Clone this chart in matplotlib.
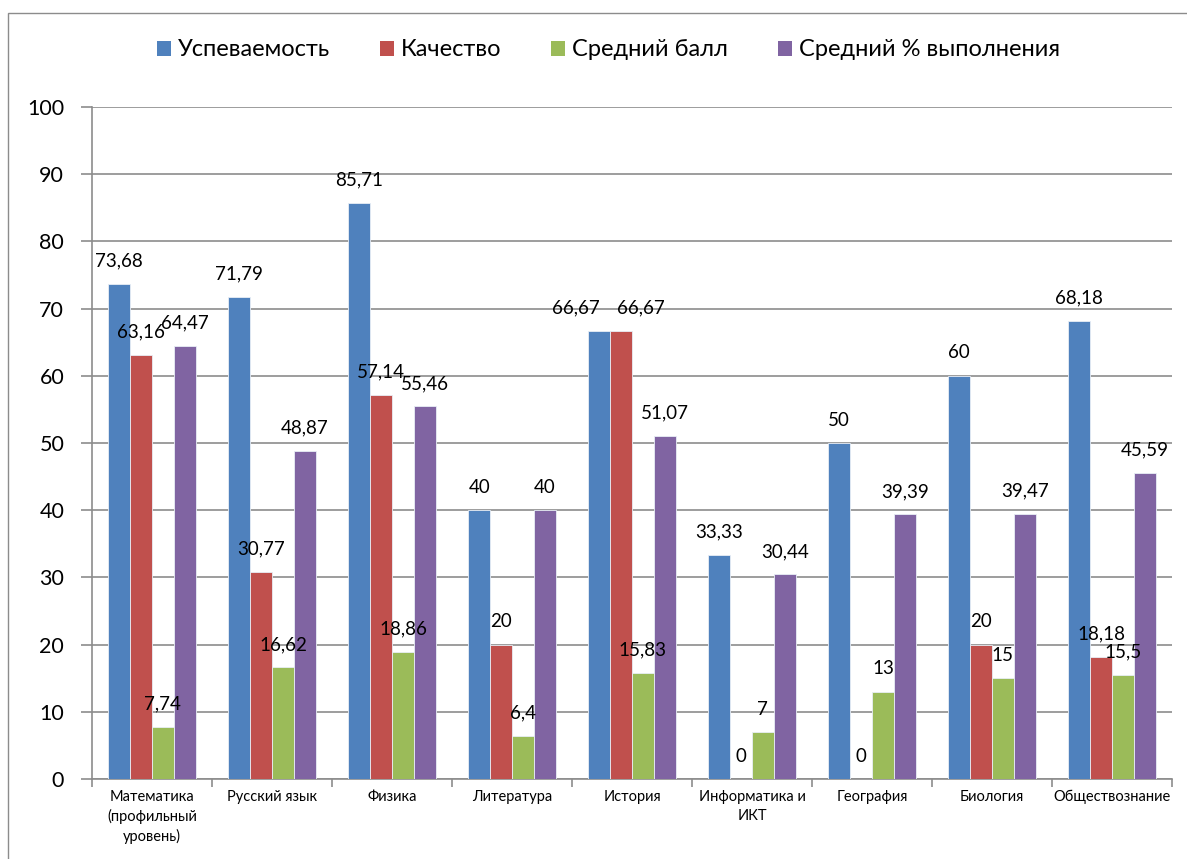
import matplotlib
matplotlib.use("Agg")
import matplotlib.pyplot as plt
from matplotlib.patches import Rectangle, Patch
import numpy as np

plt.rcParams['font.family'] = ['Lato', 'DejaVu Sans']

categories = ["Математика\n(профильный\nуровень)", "Русский язык", "Физика", "Литература",
              "История", "Информатика и\nИКТ", "География", "Биология", "Обществознание"]
series_names = ["Успеваемость", "Качество", "Средний балл", "Средний % выполнения"]
uspev = [73.68, 71.79, 85.71, 40, 66.67, 33.33, 50, 60, 68.18]
kach = [63.16, 30.77, 57.14, 20, 66.67, 0, 0, 20, 18.18]
sred_ball = [7.74, 16.62, 18.86, 6.4, 15.83, 7, 13, 15, 15.5]
sred_proc = [64.47, 48.87, 55.46, 40, 51.07, 30.44, 39.39, 39.47, 45.59]
labels_text = [
    ["73,68", "71,79", "85,71", "40", "66,67", "33,33", "50", "60", "68,18"],
    ["63,16", "30,77", "57,14", "20", "66,67", "0", "0", "20", "18,18"],
    ["7,74", "16,62", "18,86", "6,4", "15,83", "7", "13", "15", "15,5"],
    ["64,47", "48,87", "55,46", "40", "51,07", "30,44", "39,39", "39,47", "45,59"],
]
colors = ["#4F81BD", "#C0504D", "#9BBB59", "#8064A2"]
yticks = [0, 10, 20, 30, 40, 50, 60, 70, 80, 90, 100]

W, H = 1187, 859
fig = plt.figure(figsize=(W / 100, H / 100), dpi=100)
fig.patch.set_facecolor("white")

# outer chart border
fig.add_artist(Rectangle((8 / W, -0.05), 1.2, 1 - 13 / H + 0.05, transform=fig.transFigure,
                         fill=False, edgecolor="#8c8c8c", linewidth=1.0))

left, right, top, bottom = 92, 1172, 107, 779
ax = fig.add_axes([left / W, 1 - bottom / H, (right - left) / W, (bottom - top) / H])

data = [uspev, kach, sred_ball, sred_proc]
n = len(categories)
x = np.arange(n) + 0.5
bw = 1 / 5.5
# horizontal nudges (points) where labels would collide, as in the reference
nudge = {(0, 4): -17, (1, 4): 14}
for i, (vals, c) in enumerate(zip(data, colors)):
    pos = x + (i - 1.5) * bw
    ax.bar(pos, vals, width=bw, color=c, edgecolor="#e8eef6", linewidth=0.6, zorder=3)
    for j, (p, v, t) in enumerate(zip(pos, vals, labels_text[i])):
        ax.annotate(t, (p, v), xytext=(nudge.get((i, j), 0), 16.5), textcoords="offset points",
                    ha="center", va="center", fontsize=13.5, color="black", zorder=5)

ax.set_xlim(0, n)
ax.set_ylim(0, 100)
ax.set_yticks(yticks)
ax.set_yticklabels([str(v) for v in yticks], fontsize=15.5)
ax.yaxis.grid(True, color="#8c8c8c", linewidth=1.2, zorder=0)
ax.set_axisbelow(True)

ax.set_xticks(np.arange(n + 1))
ax.set_xticklabels([])
ax.set_xticks(x, minor=True)
ax.set_xticklabels(categories, minor=True, fontsize=10.5, linespacing=1.4)
ax.tick_params(axis="x", which="minor", length=0, pad=8)
ax.tick_params(axis="x", which="major", length=6, color="#8c8c8c", width=1.2, direction="out")
ax.tick_params(axis="y", length=8, color="#8c8c8c", width=1.2, pad=12)

for s in ["top", "right"]:
    ax.spines[s].set_visible(False)
for s in ["left", "bottom"]:
    ax.spines[s].set_color("#8c8c8c")
    ax.spines[s].set_linewidth(1.2)

handles = [Patch(facecolor=c, edgecolor="none") for c in colors]
fig.legend(handles, series_names, loc="center", bbox_to_anchor=(608.5 / W, 1 - 50 / H),
           ncol=4, frameon=False, fontsize=17, handlelength=0.6, handleheight=0.6,
           handletextpad=0.3, columnspacing=2.1)

fig.savefig("out.png", dpi=100)
